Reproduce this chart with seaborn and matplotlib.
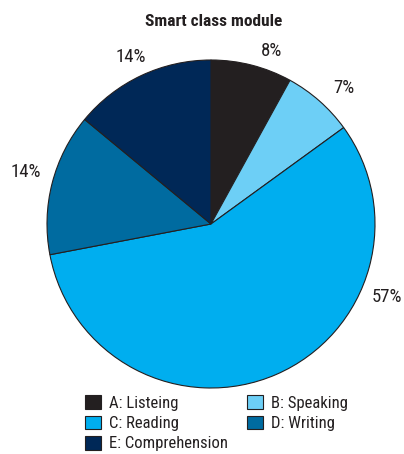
import numpy as np
import matplotlib
matplotlib.use("Agg")
import matplotlib.pyplot as plt
import seaborn as sns
from matplotlib import font_manager

# data
categories = ["A: Listeing", "B: Speaking", "C: Reading", "D: Writing", "E: Comprehension"]
shares = [8, 7, 57, 14, 14]
colors = ["#231f20", "#6dcff6", "#00aeef", "#006ba0", "#002857"]

# where the % labels sit: shift from slice middle (degrees) and distance from centre
label_shift = [-4.9, -2.8, 44.0, -1.3, 0.4]
label_dist = [1.12, 1.16, 1.16, 1.17, 1.13]

sns.set_theme(style="white")
names = {f.name for f in font_manager.fontManager.ttflist}
fam = "DejaVu Sans"
for cand in ["Roboto Condensed", "Liberation Sans Narrow", "Open Sans Condensed", "Lato"]:
    if cand in names:
        fam = cand
        break
plt.rcParams["font.family"] = [fam, "DejaVu Sans"]
txt = "#231f20"

fig = plt.figure(figsize=(4.04, 4.54), dpi=100)
ax = fig.add_axes([47 / 404, 1 - 388 / 454, 328 / 404, 328 / 454])

wedges, texts, autotexts = ax.pie(
    shares, colors=colors, startangle=90, counterclock=False,
    autopct="%d%%", pctdistance=1.12,
    wedgeprops=dict(edgecolor="#231f20", linewidth=0.8),
    textprops=dict(color=txt, fontsize=13.5),
)
for w, t, s, d in zip(wedges, autotexts, label_shift, label_dist):
    ang = np.deg2rad((w.theta1 + w.theta2) / 2 + s)
    t.set_position((d * np.cos(ang), d * np.sin(ang)))
ax.set_xlim(-1, 1)
ax.set_ylim(-1, 1)
ax.set_aspect("equal")

fig.text(214 / 404, 1 - 22 / 454, "Smart class module", ha="center", va="center",
         fontsize=12.5, fontweight="bold", color=txt)

# row-major legend order: A B / C D / E
order = [0, 2, 4, 1, 3]
fig.legend([wedges[i] for i in order], [categories[i] for i in order],
           loc="upper left", bbox_to_anchor=(77 / 404, 1 - 387 / 454),
           ncol=2, frameon=False, fontsize=12, labelcolor=txt,
           handlelength=0.96, handleheight=0.9, handletextpad=0.48,
           columnspacing=1.1, labelspacing=0.27, borderpad=0)

fig.savefig("out.png", dpi=100)
